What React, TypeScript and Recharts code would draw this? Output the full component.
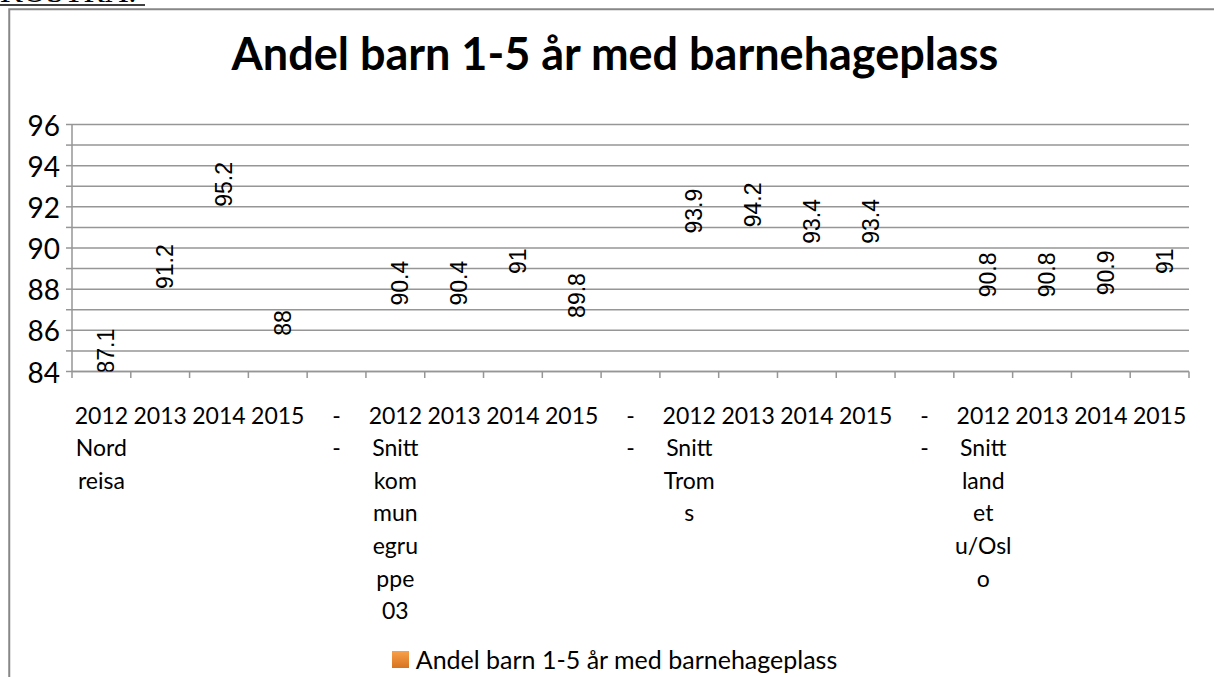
import React from 'react';
import { BarChart, Bar, XAxis, YAxis, CartesianGrid, Legend, LabelList } from 'recharts';

// category labels, already wrapped the way the original chart shows them
const categories = [
  '2012\nNord\nreisa', '2013', '2014', '2015',
  '-\n-',
  '2012\nSnitt\nkom\nmun\negru\nppe\n03', '2013', '2014', '2015',
  '-\n-',
  '2012\nSnitt\nTrom\ns', '2013', '2014', '2015',
  '-\n-',
  '2012\nSnitt\nland\net\nu/Osl\no', '2013', '2014', '2015',
];

const values: (number | null)[] = [
  87.1, 91.2, 95.2, 88,
  null,
  90.4, 90.4, 91, 89.8,
  null,
  93.9, 94.2, 93.4, 93.4,
  null,
  90.8, 90.8, 90.9, 91,
];

const yTicks = [84, 85, 86, 87, 88, 89, 90, 91, 92, 93, 94, 95, 96];

const seriesName = 'Andel barn 1-5 år med barnehageplass';
const title = 'Andel barn 1-5 år med barnehageplass';

const W = 1214;
const H = 677;
const PLOT_LEFT = 72;
const PLOT_RIGHT = 1189;
const PLOT_TOP = 124.5;
const PLOT_BOTTOM = 371.5;
const GRID = '#969696';
const FONT = 'Lato, "Noto Sans", sans-serif';

const data = categories.map((cat, i) => ({ cat, value: values[i] }));
const bandW = (PLOT_RIGHT - PLOT_LEFT) / categories.length;

const YTick = (props: any) => {
  const { x, y, payload } = props;
  if (payload.value % 2 !== 0) return <g />;
  return (
    <text x={x} y={y} textAnchor="end" dominantBaseline="central" fontFamily={FONT} fontSize={28} fill="#000">
      {payload.value}
    </text>
  );
};

const XTick = (props: any) => {
  const { x, payload, index } = props;
  const lines = String(payload.value).split('\n');
  const left = x - bandW / 2;
  return (
    <g>
      <line x1={left} x2={left} y1={PLOT_BOTTOM} y2={PLOT_BOTTOM + 6.5} stroke={GRID} strokeWidth={1.5} />
      {index === categories.length - 1 && (
        <line x1={left + bandW} x2={left + bandW} y1={PLOT_BOTTOM} y2={PLOT_BOTTOM + 6.5} stroke={GRID} strokeWidth={1.5} />
      )}
      <text x={x} y={PLOT_BOTTOM + 52} textAnchor="middle" fontFamily={FONT} fontSize={23} fill="#000">
        {lines.map((l, i) => (
          <tspan key={i} x={x} dy={i === 0 ? 0 : 32.6}>{l}</tspan>
        ))}
      </text>
    </g>
  );
};

const BarLabel = (props: any) => {
  const { x, y, width, height, value, index } = props;
  if (value == null) return null;
  const cx = Number(x) + Number(width) / 2 + 5 + 8;
  const top = Number(y) + 21;
  const bottom = Number(y) + Number(height);
  const id = `lblclip${index}`;
  return (
    <g>
      <defs>
        <clipPath id={id}>
          <rect x={0} y={0} width={W} height={bottom} />
        </clipPath>
      </defs>
      <g clipPath={`url(#${id})`}>
        <text
          x={cx}
          y={top}
          textAnchor="end"
          transform={`rotate(-90, ${cx}, ${top})`}
          fontFamily='"Liberation Sans", Arial, sans-serif'
          fontSize={23}
          fill="#000"
        >
          {value}
        </text>
      </g>
    </g>
  );
};

const LegendContent = () => (
  <div style={{ height: 36, display: 'flex', alignItems: 'center', justifyContent: 'center' }}>
    <div style={{ width: 17, height: 17, background: 'linear-gradient(#f9a04a, #d7741f)', marginRight: 7 }} />
    <span style={{ fontFamily: FONT, fontSize: 25, color: '#000' }}>{seriesName}</span>
  </div>
);

export default function App() {
  return (
    <div style={{ position: 'absolute', left: 0, top: 0, width: W, height: H, overflow: 'hidden', background: '#fff' }}>
      <svg width={W} height={H} style={{ position: 'absolute', left: 0, top: 0 }}>
        <text x={0} y={2} fontFamily='"Liberation Serif", serif' fontSize={32} fill="#000">KOSTRA:</text>
        <line x1={0} x2={145} y1={5} y2={5} stroke="#000" strokeWidth={1.5} />
        <rect x={9.25} y={9.25} width={W + 20} height={H + 20} fill="none" stroke="#878787" strokeWidth={2} />
        <text x={615} y={70} textAnchor="middle" fontFamily={FONT} fontWeight={700} fontSize={45} fill="#000">
          {title}
        </text>
      </svg>
      <div style={{ position: 'absolute', left: 0, top: 0 }}>
        <BarChart
          width={W}
          height={H}
          data={data}
          margin={{ top: PLOT_TOP, right: W - PLOT_RIGHT, left: 0, bottom: 0 }}
        >
          <CartesianGrid vertical={false} stroke={GRID} strokeWidth={1.5} />
          <XAxis
            dataKey="cat"
            interval={0}
            height={H - PLOT_BOTTOM - 36}
            tick={<XTick />}
            tickLine={false}
            axisLine={{ stroke: GRID, strokeWidth: 1.5 }}
          />
          <YAxis
            domain={[84, 96]}
            ticks={yTicks}
            interval={0}
            width={PLOT_LEFT}
            tick={<YTick />}
            tickSize={6}
            tickMargin={6}
            tickLine={{ stroke: GRID, strokeWidth: 1.5 }}
            axisLine={{ stroke: GRID, strokeWidth: 1.5 }}
          />
          <Bar dataKey="value" name={seriesName} fill="none" isAnimationActive={false}>
            <LabelList dataKey="value" content={<BarLabel />} />
          </Bar>
          <Legend content={<LegendContent />} verticalAlign="bottom" wrapperStyle={{ left: 0, width: 1229, bottom: 0 }} />
        </BarChart>
      </div>
    </div>
  );
}
